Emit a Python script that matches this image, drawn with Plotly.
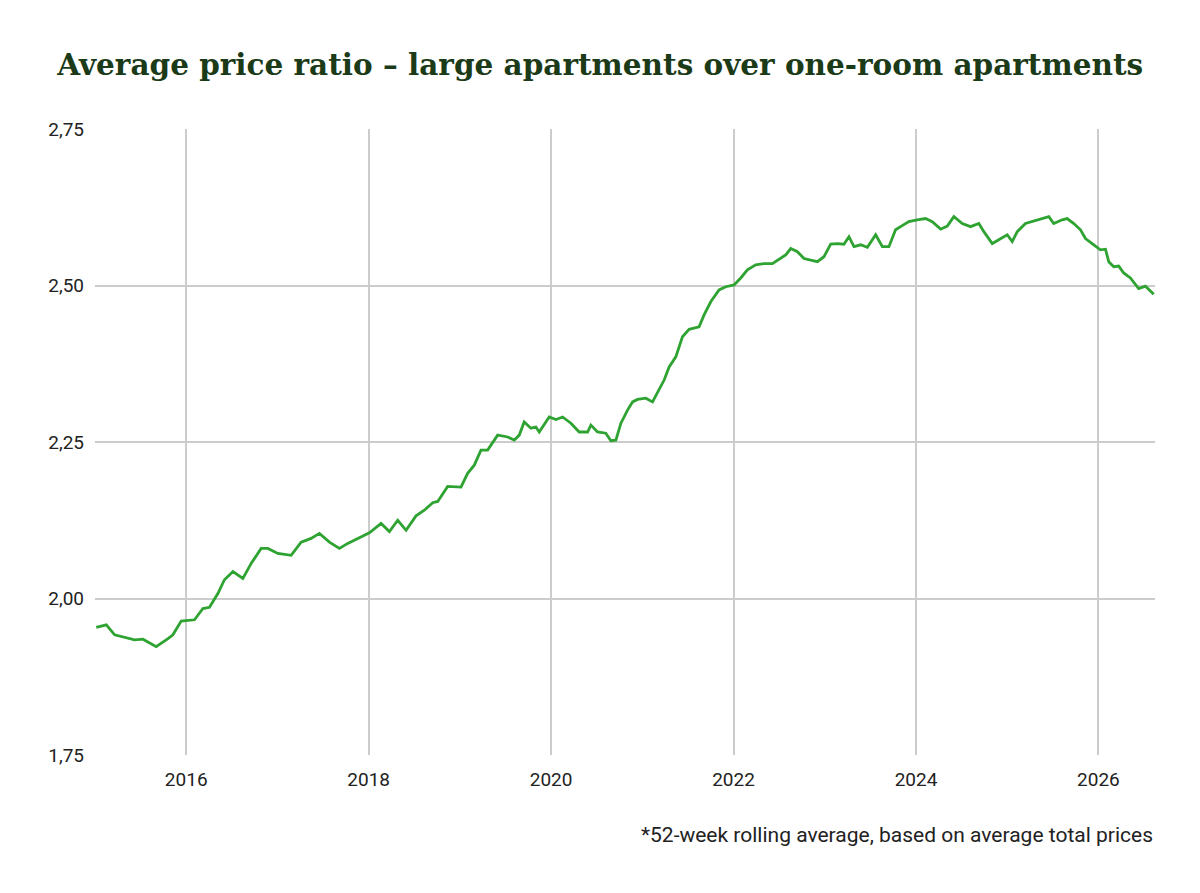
import plotly.graph_objects as go

# decimal year positions and ratio values
years = [
    2015.014, 2015.124, 2015.215, 2015.324, 2015.434, 2015.526, 2015.671, 2015.800, 2015.854, 2015.945,
    2016.091, 2016.183, 2016.255, 2016.347, 2016.419, 2016.512, 2016.621, 2016.712, 2016.821, 2016.895,
    2017.004, 2017.150, 2017.260, 2017.369, 2017.460, 2017.570, 2017.679, 2017.771, 2017.881, 2018.008,
    2018.136, 2018.227, 2018.319, 2018.410, 2018.519, 2018.610, 2018.702, 2018.757, 2018.866, 2019.012,
    2019.085, 2019.158, 2019.231, 2019.304, 2019.414, 2019.524, 2019.596, 2019.651, 2019.705, 2019.779,
    2019.833, 2019.870, 2019.979, 2020.053, 2020.126, 2020.217, 2020.308, 2020.400, 2020.436, 2020.509,
    2020.600, 2020.655, 2020.710, 2020.765, 2020.838, 2020.893, 2020.947, 2021.038, 2021.112, 2021.166,
    2021.239, 2021.294, 2021.367, 2021.440, 2021.513, 2021.622, 2021.677, 2021.750, 2021.841, 2021.915,
    2022.006, 2022.079, 2022.152, 2022.243, 2022.334, 2022.426, 2022.498, 2022.572, 2022.627, 2022.700,
    2022.772, 2022.846, 2022.919, 2022.991, 2023.065, 2023.138, 2023.210, 2023.265, 2023.320, 2023.393,
    2023.467, 2023.558, 2023.631, 2023.703, 2023.776, 2023.831, 2023.922, 2024.014, 2024.105, 2024.178,
    2024.270, 2024.343, 2024.415, 2024.507, 2024.598, 2024.689, 2024.744, 2024.836, 2024.926, 2025.000,
    2025.055, 2025.110, 2025.200, 2025.291, 2025.383, 2025.456, 2025.510, 2025.602, 2025.657, 2025.730,
    2025.803, 2025.858, 2025.949, 2026.022, 2026.077, 2026.113, 2026.168, 2026.222, 2026.277, 2026.350,
    2026.441, 2026.515, 2026.606,
]
ratio = [
    1.954, 1.958, 1.942, 1.938, 1.934, 1.935, 1.923, 1.936, 1.942, 1.964,
    1.966, 1.984, 1.986, 2.008, 2.030, 2.043, 2.032, 2.056, 2.080, 2.080,
    2.072, 2.069, 2.090, 2.096, 2.104, 2.090, 2.080, 2.088, 2.096, 2.105,
    2.120, 2.107, 2.125, 2.109, 2.132, 2.141, 2.153, 2.155, 2.179, 2.178,
    2.200, 2.213, 2.237, 2.237, 2.261, 2.258, 2.253, 2.261, 2.282, 2.272,
    2.274, 2.266, 2.290, 2.286, 2.290, 2.280, 2.266, 2.266, 2.277, 2.266,
    2.264, 2.252, 2.253, 2.280, 2.301, 2.314, 2.318, 2.320, 2.314, 2.328,
    2.349, 2.370, 2.386, 2.418, 2.430, 2.434, 2.453, 2.474, 2.493, 2.498,
    2.501, 2.512, 2.525, 2.533, 2.535, 2.535, 2.542, 2.549, 2.559, 2.554,
    2.543, 2.540, 2.538, 2.546, 2.566, 2.567, 2.566, 2.578, 2.562, 2.565,
    2.561, 2.581, 2.562, 2.562, 2.589, 2.594, 2.602, 2.605, 2.607, 2.602,
    2.590, 2.595, 2.610, 2.599, 2.594, 2.599, 2.586, 2.567, 2.575, 2.581,
    2.570, 2.586, 2.599, 2.603, 2.607, 2.610, 2.599, 2.605, 2.607, 2.599,
    2.589, 2.575, 2.565, 2.557, 2.558, 2.538, 2.530, 2.531, 2.520, 2.512,
    2.495, 2.499, 2.486,
]

title = "Average price ratio – large apartments over one-room apartments"
note = "*52-week rolling average, based on average total prices"

fig = go.Figure()
fig.add_trace(go.Scatter(x=years, y=ratio, mode="lines",
                         line=dict(color="#2ea332", width=2.8),
                         hoverinfo="skip"))

# page body adds an 8px offset, so margins are shifted to compensate
fig.update_layout(
    width=1200, height=893,
    paper_bgcolor="white", plot_bgcolor="white",
    margin=dict(l=87, r=53, t=121, b=146),
    separators=",.",
    showlegend=False,
    font=dict(family="Roboto", size=19, color="#222222"),
    title=dict(text="<b>" + title + "</b>", x=0.4935, xanchor="center",
               y=0.936, yanchor="middle",
               font=dict(family="DejaVu Serif", size=29.5, color="#1b3a17")),
    xaxis=dict(range=[2015.0, 2026.62], tick0=2016, dtick=2, tickformat="d",
               showgrid=True, gridcolor="#cccccc", gridwidth=1.5,
               zeroline=False, showline=False, ticks="", ticklabelstandoff=11),
    yaxis=dict(range=[1.75, 2.75], tick0=1.75, dtick=0.25, tickformat=".2f",
               showgrid=True, gridcolor="#cccccc", gridwidth=1.5,
               zeroline=False, showline=False, ticks="", ticklabelstandoff=10),
)

fig.add_annotation(text=note, xref="paper", yref="paper", x=1.0, y=-0.128,
                   xanchor="right", yanchor="middle", showarrow=False,
                   font=dict(family="Roboto", size=21, color="#222222"))

fig.write_html("out.html")
